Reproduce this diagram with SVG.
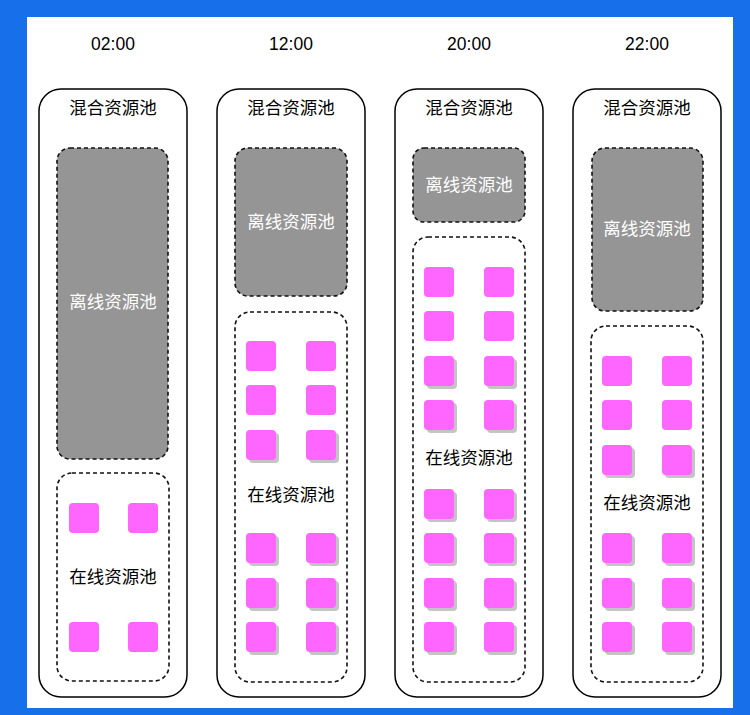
<svg xmlns="http://www.w3.org/2000/svg" width="750" height="715" viewBox="0 0 750 715">
<defs>
<style>
.time{font-family:"Liberation Sans","Noto Sans CJK SC",sans-serif;font-size:17.5px;fill:#000;text-anchor:middle}
.lbl{font-family:"Noto Sans CJK SC","Noto Sans",sans-serif;font-size:17.5px;text-anchor:middle}
.outer{fill:#fff;stroke:#000;stroke-width:1.5}
.off{fill:#959595;stroke:#111;stroke-width:1.6;stroke-dasharray:4 3}
.on{fill:none;stroke:#111;stroke-width:1.6;stroke-dasharray:4 3}
.sq{fill:#ff66ff}
.sh{fill:#c4c4c4}
</style>
<rect id="s" class="sq" width="30" height="30" rx="4"/>
<g id="ss"><rect class="sh" x="3" y="3" width="30" height="30" rx="4"/><rect class="sq" width="30" height="30" rx="4"/></g>
</defs>
<rect width="750" height="715" fill="#176fe9"/>
<rect x="27" y="17" width="706" height="691" fill="#fff"/>
<g id="connectors"/>
<g id="col1">
<text class="time" x="113" y="50">02:00</text>
<rect class="outer" x="39" y="89" width="148" height="608" rx="22"/>
<text class="lbl" x="113" y="114" fill="#000">混合资源池</text>
<g id="off1"><rect class="off" x="57" y="148" width="111" height="311" rx="13"/>
<text class="lbl" x="113" y="308" fill="#fff">离线资源池</text></g>
<g id="on1"><rect class="on" x="57" y="473" width="112" height="208" rx="15"/>
<text class="lbl" x="113" y="583" fill="#000">在线资源池</text>
<use href="#s" x="69" y="503"/><use href="#s" x="128" y="503"/>
<use href="#s" x="69" y="622"/><use href="#s" x="128" y="622"/></g>
</g>
<g id="col2">
<text class="time" x="291" y="50">12:00</text>
<rect class="outer" x="217" y="89" width="148" height="608" rx="22"/>
<text class="lbl" x="291" y="114" fill="#000">混合资源池</text>
<g id="off2"><rect class="off" x="235" y="148" width="112" height="148" rx="13"/>
<text class="lbl" x="291" y="228" fill="#fff">离线资源池</text></g>
<g id="on2"><rect class="on" x="235" y="312" width="112" height="370" rx="15"/>
<text class="lbl" x="291" y="501" fill="#000">在线资源池</text>
<use href="#s" x="246" y="341"/><use href="#s" x="306" y="341"/>
<use href="#s" x="246" y="385"/><use href="#s" x="306" y="385"/>
<use href="#ss" x="246" y="430"/><use href="#ss" x="306" y="430"/>
<use href="#ss" x="246" y="533"/><use href="#ss" x="306" y="533"/>
<use href="#ss" x="246" y="578"/><use href="#ss" x="306" y="578"/>
<use href="#ss" x="246" y="622"/><use href="#ss" x="306" y="622"/></g>
</g>
<g id="col3">
<text class="time" x="469" y="50">20:00</text>
<rect class="outer" x="395" y="89" width="148" height="608" rx="22"/>
<text class="lbl" x="469" y="114" fill="#000">混合资源池</text>
<g id="off3"><rect class="off" x="413" y="148" width="112" height="74" rx="11"/>
<text class="lbl" x="469" y="191" fill="#fff">离线资源池</text></g>
<g id="on3"><rect class="on" x="413" y="237" width="112" height="445" rx="15"/>
<text class="lbl" x="469" y="464" fill="#000">在线资源池</text>
<use href="#s" x="424" y="267"/><use href="#s" x="484" y="267"/>
<use href="#s" x="424" y="311"/><use href="#s" x="484" y="311"/>
<use href="#ss" x="424" y="356"/><use href="#ss" x="484" y="356"/>
<use href="#ss" x="424" y="400"/><use href="#ss" x="484" y="400"/>
<use href="#ss" x="424" y="489"/><use href="#ss" x="484" y="489"/>
<use href="#ss" x="424" y="533"/><use href="#ss" x="484" y="533"/>
<use href="#ss" x="424" y="578"/><use href="#ss" x="484" y="578"/>
<use href="#ss" x="424" y="622"/><use href="#ss" x="484" y="622"/></g>
</g>
<g id="col4">
<text class="time" x="647" y="50">22:00</text>
<rect class="outer" x="573" y="89" width="148" height="608" rx="22"/>
<text class="lbl" x="647" y="114" fill="#000">混合资源池</text>
<g id="off4"><rect class="off" x="592" y="148" width="111" height="163" rx="13"/>
<text class="lbl" x="647" y="235" fill="#fff">离线资源池</text></g>
<g id="on4"><rect class="on" x="591" y="326" width="112" height="356" rx="15"/>
<text class="lbl" x="647" y="509" fill="#000">在线资源池</text>
<use href="#s" x="602" y="356"/><use href="#s" x="662" y="356"/>
<use href="#s" x="602" y="400"/><use href="#s" x="662" y="400"/>
<use href="#ss" x="602" y="445"/><use href="#ss" x="662" y="445"/>
<use href="#ss" x="602" y="533"/><use href="#ss" x="662" y="533"/>
<use href="#ss" x="602" y="578"/><use href="#ss" x="662" y="578"/>
<use href="#ss" x="602" y="622"/><use href="#ss" x="662" y="622"/></g>
</g>
</svg>
